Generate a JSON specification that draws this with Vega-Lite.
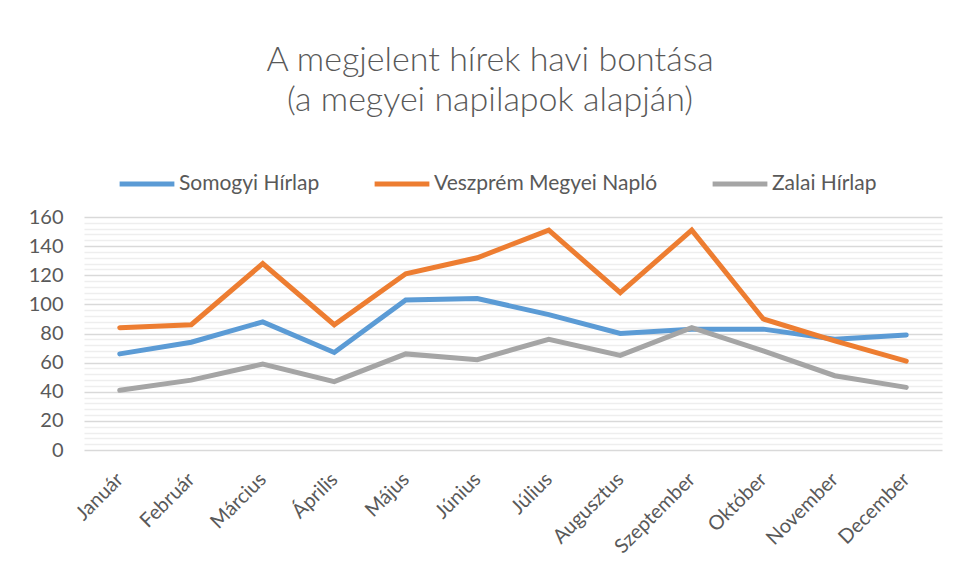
{
  "$schema": "https://vega.github.io/schema/vega-lite/v6.json",
  "width": 858,
  "height": 233,
  "autosize": "none",
  "padding": {"left": 84, "top": 217, "right": 15, "bottom": 130},
  "background": "white",
  "title": {
    "text": ["A megjelent hírek havi bontása", "(a megyei napilapok alapján)"],
    "font": "Lato",
    "fontSize": 34,
    "fontWeight": 300,
    "color": "#595959",
    "anchor": "middle",
    "frame": "group",
    "lineHeight": 40,
    "offset": 36,
    "dx": -23
  },
  "data": {
    "values": [
      {"honap": "Január", "lap": "Somogyi Hírlap", "db": 66},
      {"honap": "Február", "lap": "Somogyi Hírlap", "db": 74},
      {"honap": "Március", "lap": "Somogyi Hírlap", "db": 88},
      {"honap": "Április", "lap": "Somogyi Hírlap", "db": 67},
      {"honap": "Május", "lap": "Somogyi Hírlap", "db": 103},
      {"honap": "Június", "lap": "Somogyi Hírlap", "db": 104},
      {"honap": "Július", "lap": "Somogyi Hírlap", "db": 93},
      {"honap": "Augusztus", "lap": "Somogyi Hírlap", "db": 80},
      {"honap": "Szeptember", "lap": "Somogyi Hírlap", "db": 83},
      {"honap": "Október", "lap": "Somogyi Hírlap", "db": 83},
      {"honap": "November", "lap": "Somogyi Hírlap", "db": 76},
      {"honap": "December", "lap": "Somogyi Hírlap", "db": 79},
      {"honap": "Január", "lap": "Veszprém Megyei Napló", "db": 84},
      {"honap": "Február", "lap": "Veszprém Megyei Napló", "db": 86},
      {"honap": "Március", "lap": "Veszprém Megyei Napló", "db": 128},
      {"honap": "Április", "lap": "Veszprém Megyei Napló", "db": 86},
      {"honap": "Május", "lap": "Veszprém Megyei Napló", "db": 121},
      {"honap": "Június", "lap": "Veszprém Megyei Napló", "db": 132},
      {"honap": "Július", "lap": "Veszprém Megyei Napló", "db": 151},
      {"honap": "Augusztus", "lap": "Veszprém Megyei Napló", "db": 108},
      {"honap": "Szeptember", "lap": "Veszprém Megyei Napló", "db": 151},
      {"honap": "Október", "lap": "Veszprém Megyei Napló", "db": 90},
      {"honap": "November", "lap": "Veszprém Megyei Napló", "db": 75},
      {"honap": "December", "lap": "Veszprém Megyei Napló", "db": 61},
      {"honap": "Január", "lap": "Zalai Hírlap", "db": 41},
      {"honap": "Február", "lap": "Zalai Hírlap", "db": 48},
      {"honap": "Március", "lap": "Zalai Hírlap", "db": 59},
      {"honap": "Április", "lap": "Zalai Hírlap", "db": 47},
      {"honap": "Május", "lap": "Zalai Hírlap", "db": 66},
      {"honap": "Június", "lap": "Zalai Hírlap", "db": 62},
      {"honap": "Július", "lap": "Zalai Hírlap", "db": 76},
      {"honap": "Augusztus", "lap": "Zalai Hírlap", "db": 65},
      {"honap": "Szeptember", "lap": "Zalai Hírlap", "db": 84},
      {"honap": "Október", "lap": "Zalai Hírlap", "db": 68},
      {"honap": "November", "lap": "Zalai Hírlap", "db": 51},
      {"honap": "December", "lap": "Zalai Hírlap", "db": 43}
    ]
  },
  "mark": {"type": "line", "strokeWidth": 5, "strokeCap": "round", "strokeJoin": "miter"},
  "encoding": {
    "x": {
      "field": "honap",
      "type": "nominal",
      "sort": null,
      "title": null,
      "axis": {
        "labelAngle": -45,
        "labelAlign": "right",
        "labelBaseline": "middle",
        "labelFont": "Lato",
        "labelFontSize": 20,
        "labelColor": "#595959",
        "labelPadding": 26,
        "labelLimit": 300,
        "ticks": false,
        "domain": false,
        "grid": false
      }
    },
    "y": {
      "field": "db",
      "type": "quantitative",
      "title": null,
      "scale": {"domain": [0, 160], "nice": false},
      "axis": {
        "values": [0, 4, 8, 12, 16, 20, 24, 28, 32, 36, 40, 44, 48, 52, 56, 60, 64, 68, 72, 76, 80, 84, 88, 92, 96, 100, 104, 108, 112, 116, 120, 124, 128, 132, 136, 140, 144, 148, 152, 156, 160],
        "labelExpr": "datum.value % 20 === 0 ? datum.label : ''",
        "labelFont": "Lato",
        "labelFontSize": 20,
        "labelColor": "#595959",
        "labelPadding": 21,
        "ticks": false,
        "domain": false,
        "grid": true,
        "gridColor": {"condition": {"test": "datum.value % 20 === 0", "value": "#d9d9d9"}, "value": "#eeeeee"},
        "gridWidth": 1.3
      }
    },
    "color": {
      "field": "lap",
      "type": "nominal",
      "scale": {
        "domain": ["Somogyi Hírlap", "Veszprém Megyei Napló", "Zalai Hírlap"],
        "range": ["#5b9bd5", "#ed7d31", "#a5a5a5"]
      },
      "legend": {
        "title": null,
        "orient": "none",
        "direction": "horizontal",
        "legendX": 33,
        "legendY": -63,
        "symbolType": "stroke",
        "symbolSize": 3000,
        "symbolStrokeWidth": 5,
        "labelFont": "Lato",
        "labelFontSize": 21,
        "labelColor": "#595959",
        "labelOffset": 2,
        "labelLimit": 400,
        "columnPadding": 44
      }
    }
  },
  "config": {"view": {"stroke": null}}
}
